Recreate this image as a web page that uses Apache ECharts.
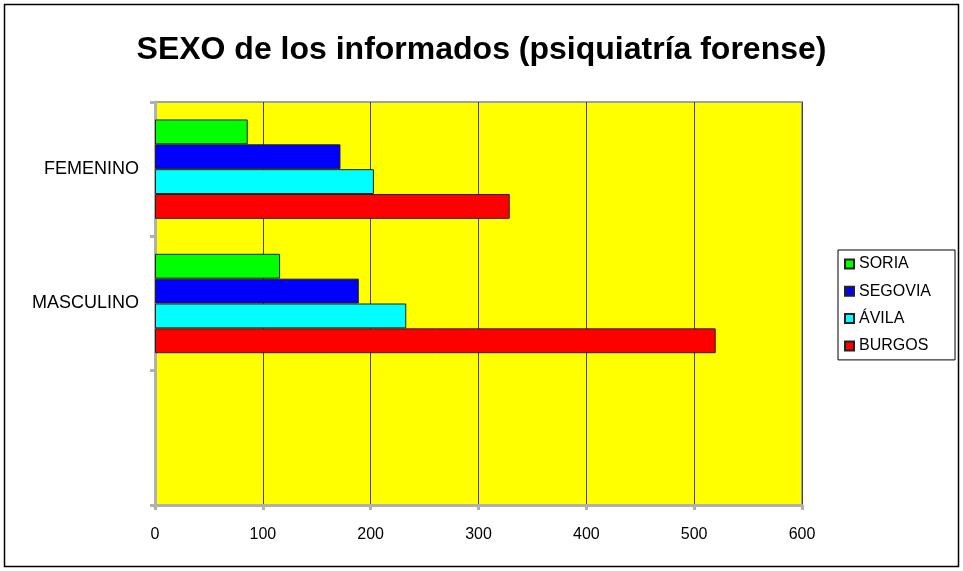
<!DOCTYPE html>
<html><head><meta charset="utf-8">
<script src="https://cdn.jsdelivr.net/npm/echarts@6/dist/echarts.min.js"></script>
<style>html,body{margin:0;padding:0;background:#fff}#c{width:963px;height:571px}</style>
</head><body><div id="c"></div>
<script>
const categories = ['FEMENINO', 'MASCULINO', ''];
const seriesNames = ['SORIA', 'SEGOVIA', 'ÁVILA', 'BURGOS'];
const soria = [86, 116, null];
const segovia = [172, 189, null];
const avila = [203, 233, null];
const burgos = [329, 520, null];
const xTicks = [0, 100, 200, 300, 400, 500, 600];
const colors = ['#00ff00', '#0000ff', '#00ffff', '#ff0000'];
const values = [soria, segovia, avila, burgos];

const font = '"Liberation Sans", Arial, sans-serif';
const chart = echarts.init(document.getElementById('c'));
chart.setOption({
  animation: false,
  title: {
    text: 'SEXO de los informados (psiquiatría forense)',
    left: 'center', top: 29,
    textStyle: { fontFamily: font, fontSize: 32, fontWeight: 'bold', color: '#000' }
  },
  graphic: [{
    type: 'rect', shape: { x: 4.5, y: 4.5, width: 954, height: 562 },
    style: { fill: 'none', stroke: '#000', lineWidth: 1.5 }, silent: true
  }],
  legend: {
    orient: 'vertical', left: 838, top: 250,
    padding: [6, 24, 6, 6], borderColor: '#000', borderWidth: 1,
    itemWidth: 9, itemHeight: 9, itemGap: 11.3,
    icon: 'rect',
    textStyle: { fontFamily: font, fontSize: 16, lineHeight: 16, color: '#000' },
    data: seriesNames
  },
  grid: {
    left: 155, right: 161, top: 102, bottom: 66,
    show: true, backgroundColor: '#ffff00', borderColor: '#a0a0a0', borderWidth: 2
  },
  xAxis: {
    type: 'value', min: 0, max: 600, interval: 100,
    axisLine: { show: true, lineStyle: { color: '#b0b0b0', width: 3 } },
    axisTick: { show: true, length: 5, lineStyle: { color: '#b0b0b0', width: 3 } },
    splitLine: { show: true, lineStyle: { color: '#444', width: 1 } },
    axisLabel: { fontFamily: font, fontSize: 16, color: '#000', margin: 22,
      formatter: v => xTicks.includes(v) ? String(v) : '' }
  },
  yAxis: {
    type: 'category', data: categories, inverse: true,
    axisLine: { show: true, lineStyle: { color: '#b0b0b0', width: 3 } },
    axisTick: { show: true, length: 5, lineStyle: { color: '#b0b0b0', width: 3 } },
    axisLabel: { fontFamily: font, fontSize: 18, color: '#000', margin: 16 }
  },
  series: seriesNames.map((n, i) => ({
    name: n, type: 'bar', data: values[i],
    barGap: 0, barCategoryGap: '26%',
    itemStyle: { color: colors[i], borderColor: '#222', borderWidth: 1 }
  }))
});
</script></body></html>
